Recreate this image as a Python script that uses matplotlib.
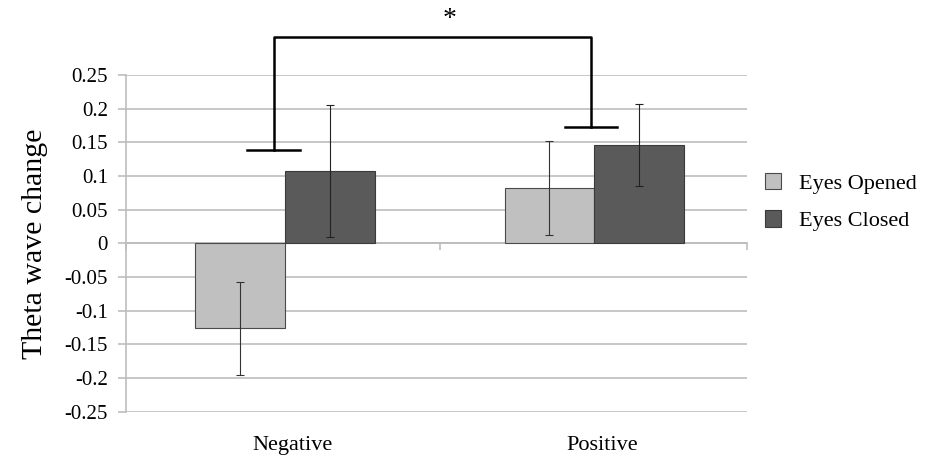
import numpy as np
import matplotlib
matplotlib.use("Agg")
import matplotlib.pyplot as plt

plt.rcParams["font.family"] = ["Liberation Serif", "DejaVu Serif"]

categories = ["Negative", "Positive"]
series_names = ["Eyes Opened", "Eyes Closed"]
eyes_opened = [-0.126, 0.082]
eyes_closed = [0.108, 0.146]
opened_err_low = [-0.195, 0.012]
opened_err_high = [-0.058, 0.152]
closed_err_low = [0.009, 0.085]
closed_err_high = [0.205, 0.207]
y_ticks = [0.25, 0.2, 0.15, 0.1, 0.05, 0, -0.05, -0.1, -0.15, -0.2, -0.25]
y_tick_labels = ["0.25", "0.2", "0.15", "0.1", "0.05", "0", "-0.05", "-0.1",
                 "-0.15", "-0.2", "-0.25"]

fig = plt.figure(figsize=(9.46, 4.66), dpi=100)
ax = fig.add_axes([0.1332, 0.1165, 0.6564, 0.7225])

x = np.arange(len(categories))
width = 0.29
grid_color = "#bdbdbd"
x_lo, x_hi = -0.514, 1.494


# error bars given as low/high ends, convert to offsets
def offsets(vals, lo, hi):
    vals = np.array(vals)
    return np.vstack([vals - np.array(lo), np.array(hi) - vals])


ax.bar(x - width / 2, eyes_opened, width, color="#c0c0c0", edgecolor="#4a4a4a",
       linewidth=0.8, label=series_names[0], zorder=3,
       yerr=offsets(eyes_opened, opened_err_low, opened_err_high),
       error_kw=dict(ecolor="#333333", elinewidth=0.8, capsize=3, capthick=0.8))
ax.bar(x + width / 2, eyes_closed, width, color="#5a5a5a", edgecolor="#3a3a3a",
       linewidth=0.8, label=series_names[1], zorder=3,
       yerr=offsets(eyes_closed, closed_err_low, closed_err_high),
       error_kw=dict(ecolor="#222222", elinewidth=0.8, capsize=3, capthick=0.8))

ax.set_xlim(x_lo, x_hi)
ax.set_ylim(-0.25, 0.25)
ax.set_yticks(y_ticks)
ax.set_yticklabels(y_tick_labels, fontsize=15)
ax.yaxis.grid(True, color=grid_color, linewidth=1.2, zorder=0)
ax.set_axisbelow(True)

for side in ["top", "right"]:
    ax.spines[side].set_visible(False)
ax.spines["left"].set_color(grid_color)
ax.spines["left"].set_linewidth(1.2)
ax.spines["bottom"].set_position(("data", 0))
ax.spines["bottom"].set_color(grid_color)
ax.spines["bottom"].set_linewidth(1.2)
ax.tick_params(axis="y", length=6, color=grid_color, width=1.2, pad=7)
ax.set_xticks([x_lo, 0.5, x_hi])
ax.set_xticklabels(["", "", ""])
ax.tick_params(axis="x", length=5, color=grid_color, width=1.2)

for xi, name in zip(x, categories):
    ax.text(xi + 0.025, -0.1, name, transform=ax.get_xaxis_transform(),
            ha="center", va="center", fontsize=16)

ax.set_ylabel("Theta wave change", fontsize=21.5, labelpad=12)

# significance bracket
bracket_left, bracket_right = -0.037, 0.99
bracket_top = 0.307
left_foot, right_foot = 0.138, 0.173
kw = dict(color="black", linewidth=1.8, clip_on=False, zorder=5)
ax.plot([bracket_left, bracket_left, bracket_right, bracket_right],
        [left_foot, bracket_top, bracket_top, right_foot], **kw)
ax.plot([bracket_left - 0.085, bracket_left + 0.085], [left_foot, left_foot], **kw)
ax.plot([bracket_right - 0.083, bracket_right + 0.083], [right_foot, right_foot], **kw)
ax.text(0.532, 0.333, "*", ha="center", va="center", fontsize=20, clip_on=False)

leg = ax.legend(loc="upper left", bbox_to_anchor=(0.787, 0.672),
                bbox_transform=fig.transFigure, frameon=False, fontsize=16,
                handlelength=0.75, handleheight=0.75, handletextpad=0.8,
                labelspacing=0.75)

fig.savefig("out.png", dpi=100)
